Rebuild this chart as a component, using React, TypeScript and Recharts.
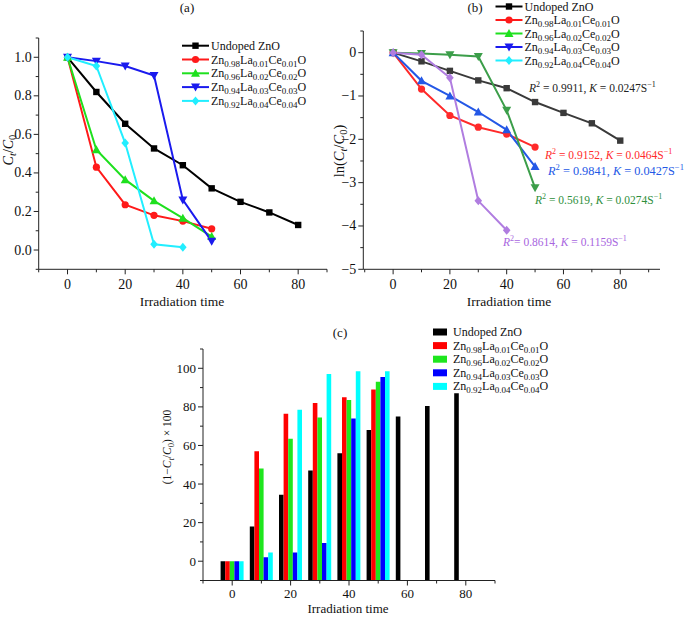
import React from "react";
import { LineChart, Line, BarChart, Bar, XAxis, YAxis } from "recharts";

// 세 패널 (a) Ct/C0, (b) ln(Ct/C0), (c) 분해율 막대 — 한 캔버스 위 절대 좌표로 겹쳐 그림
const W = 685;
const H = 617;
const FONT = "'Liberation Serif', 'Times New Roman', serif";
const AXIS_C = "#222";
const TEXT_C = "#111";

const times = [0, 10, 20, 30, 40, 50, 60, 70, 80];

// (a) Ct/C0
const undopedA = [1.0, 0.82, 0.655, 0.527, 0.44, 0.32, 0.25, 0.195, 0.13];
const la01A = [1.0, 0.43, 0.235, 0.18, 0.15, 0.11];
const la02A = [1.0, 0.52, 0.365, 0.255, 0.165, 0.07];
const la03A = [1.0, 0.98, 0.955, 0.905, 0.26, 0.045];
const la04A = [1.0, 0.955, 0.555, 0.03, 0.015];

// (b) ln(Ct/C0)
const undopedB = [0, -0.2, -0.42, -0.64, -0.82, -1.14, -1.39, -1.63, -2.03];
const la01B = [0, -0.84, -1.45, -1.72, -1.88, -2.18];
const la02B = [0, -0.65, -1.0, -1.37, -1.78, -2.63];
const la03B = [0, -0.02, -0.05, -0.09, -1.33, -3.12];
const la04B = [0, -0.05, -0.58, -3.42, -4.1];

// (c) (1 - Ct/C0) x 100
const undopedC = [0, 18, 34.5, 47, 56, 68, 75, 80.5, 87];
const la01C = [0, 57, 76.5, 82, 85, 89];
const la02C = [0, 48, 63.5, 74.5, 83.5, 93];
const la03C = [0, 2, 4.5, 9.5, 74, 95.5];
const la04C = [0, 4.5, 78.5, 97, 98.5, 98.5];

// ticks
const xMajor = [0, 20, 40, 60, 80];
const xTicks = [-10, 0, 10, 20, 30, 40, 50, 60, 70, 80, 90];
const aYMajor = [0, 0.2, 0.4, 0.6, 0.8, 1.0];
const aYTicks = [-0.1, 0, 0.1, 0.2, 0.3, 0.4, 0.5, 0.6, 0.7, 0.8, 0.9, 1.0, 1.1];
const bYMajor = [0, -1, -2, -3, -4, -5];
const bYTicks = [0.5, 0, -0.5, -1, -1.5, -2, -2.5, -3, -3.5, -4, -4.5, -5];
const cYMajor = [0, 20, 40, 60, 80, 100];
const cYTicks = [-10, 0, 10, 20, 30, 40, 50, 60, 70, 80, 90, 100, 110];

// fits in (b)
const fitR2 = ["0.9911", "0.9152", "0.9841", "0.5619", "0.8614"];
const fitK = ["0.0247", "0.0464", "0.0427", "0.0274", "0.1159"];

const names = [
  ["Undoped ZnO"],
  ["Zn", "0.98", "La", "0.01", "Ce", "0.01", "O"],
  ["Zn", "0.96", "La", "0.02", "Ce", "0.02", "O"],
  ["Zn", "0.94", "La", "0.03", "Ce", "0.03", "O"],
  ["Zn", "0.92", "La", "0.04", "Ce", "0.04", "O"],
];
const keys = ["undoped", "la01", "la02", "la03", "la04"];
const legendColors = ["#000000", "#ff1a1a", "#1ee01e", "#1a1aee", "#22eeff"];
const legendShapes = ["square", "circle", "up", "down", "diamond"];
const barColors = ["#000000", "#ff0000", "#1ee61e", "#0000ff", "#00ffff"];

const rowsA = times.map((t, i) => ({ t, undoped: undopedA[i], la01: la01A[i], la02: la02A[i], la03: la03A[i], la04: la04A[i] }));
const rowsB = times.map((t, i) => ({ t, undoped: undopedB[i], la01: la01B[i], la02: la02B[i], la03: la03B[i], la04: la04B[i] }));
const rowsC = times.map((t, i) => ({ t, undoped: undopedC[i], la01: la01C[i], la02: la02C[i], la03: la03C[i], la04: la04C[i] }));

// 선 스타일 (b 는 원본처럼 색/모양이 범례와 다름)
const seriesA = [
  { key: "undoped", color: "#000000", shape: "square" },
  { key: "la01", color: "#ff1a1a", shape: "circle" },
  { key: "la02", color: "#1ee01e", shape: "up" },
  { key: "la03", color: "#1a1aee", shape: "down" },
  { key: "la04", color: "#22eeff", shape: "diamond" },
];
const seriesB = [
  { key: "undoped", color: "#3a3a3a", shape: "square" },
  { key: "la01", color: "#ff2a2a", shape: "circle" },
  { key: "la02", color: "#2458e6", shape: "up" },
  { key: "la03", color: "#3c9e4a", shape: "down" },
  { key: "la04", color: "#b07de0", shape: "diamond" },
];

function Marker({ cx, cy, shape, color }: { cx?: number; cy?: number; shape: string; color: string }) {
  if (cx == null || cy == null || isNaN(cx) || isNaN(cy)) return <g />;
  if (shape === "square") return <rect x={cx - 3.2} y={cy - 3.2} width={6.4} height={6.4} fill={color} />;
  if (shape === "circle") return <circle cx={cx} cy={cy} r={3.6} fill={color} />;
  if (shape === "up") return <polygon points={`${cx},${cy - 4.5} ${cx + 4.5},${cy + 3.5} ${cx - 4.5},${cy + 3.5}`} fill={color} />;
  if (shape === "down") return <polygon points={`${cx},${cy + 4.5} ${cx + 4.5},${cy - 3.5} ${cx - 4.5},${cy - 3.5}`} fill={color} />;
  return <polygon points={`${cx},${cy - 4.5} ${cx + 3.8},${cy} ${cx},${cy + 4.5} ${cx - 3.8},${cy}`} fill={color} />;
}

const fmtMinus = (v: number) => (v < 0 ? `\u2212${Math.abs(v)}` : `${v}`);

const xTick = (axisY: number, fs: number, dy: number) => (p: any) => {
  const v = p.payload.value;
  const major = xMajor.includes(v);
  return (
    <g>
      <line x1={p.x} x2={p.x} y1={axisY} y2={axisY + (major ? 5 : 3)} stroke={AXIS_C} />
      {major && (
        <text x={p.x} y={axisY + dy} textAnchor="middle" dominantBaseline="central" fontSize={fs} fontFamily={FONT} fill={TEXT_C}>
          {v}
        </text>
      )}
    </g>
  );
};

const yTick = (axisX: number, majors: number[], fmt: (v: number) => string, fs: number) => (p: any) => {
  const v = p.payload.value;
  const major = majors.includes(v);
  return (
    <g>
      <line x1={axisX - (major ? 5 : 3)} x2={axisX} y1={p.y} y2={p.y} stroke={AXIS_C} />
      {major && (
        <text x={axisX - 7} y={p.y} textAnchor="end" dominantBaseline="central" fontSize={fs} fontFamily={FONT} fill={TEXT_C}>
          {fmt(v)}
        </text>
      )}
    </g>
  );
};

function Formula({ x, y, parts, fs = 12, sub = 9, fill = TEXT_C }: { x: number; y: number; parts: string[]; fs?: number; sub?: number; fill?: string }) {
  return (
    <text x={x} y={y} fontSize={fs} fontFamily={FONT} fill={fill}>
      {parts.map((p, i) =>
        i % 2 ? (
          <tspan key={i} dy={3} fontSize={sub}>{p}</tspan>
        ) : (
          <tspan key={i} dy={i === 0 ? 0 : -3}>{p}</tspan>
        )
      )}
    </text>
  );
}

function Fit({ x, y, i, color, fs = 11.5, tight = false }: { x: number; y: number; i: number; color: string; fs?: number; tight?: boolean }) {
  return (
    <text x={x} y={y} fontSize={fs} fontFamily={FONT} fill={color}>
      <tspan fontStyle="italic">R</tspan>
      <tspan dy={-5} fontSize={fs * 0.7}>2</tspan>
      <tspan dy={5}>{tight ? `= ${fitR2[i]}, ` : ` = ${fitR2[i]}, `}</tspan>
      <tspan fontStyle="italic">K</tspan>
      <tspan>{` = ${fitK[i]}S`}</tspan>
      <tspan dy={-5} fontSize={fs * 0.7}>{"\u22121"}</tspan>
    </text>
  );
}

function LineLegend({ x, y0, step, colors }: { x: number; y0: number; step: number; colors: string[] }) {
  return (
    <g>
      {names.map((n, i) => {
        const y = y0 + i * step;
        return (
          <g key={i}>
            <line x1={x} x2={x + 27} y1={y} y2={y} stroke={colors[i]} strokeWidth={2} />
            <Marker cx={x + 13.5} cy={y} shape={legendShapes[i]} color={colors[i]} />
            <Formula x={x + 29} y={y + 4} parts={n} />
          </g>
        );
      })}
    </g>
  );
}

function RotLabel({ x, y, fs, children }: { x: number; y: number; fs: number; children: React.ReactNode }) {
  return (
    <text x={x} y={y} transform={`rotate(-90, ${x}, ${y})`} textAnchor="middle" fontSize={fs} fontFamily={FONT} fill={TEXT_C}>
      {children}
    </text>
  );
}

const abs: React.CSSProperties = { position: "absolute", left: 0, top: 0 };

export default function App() {
  return (
    <div style={{ position: "absolute", left: 0, top: 0, width: W, height: H, background: "#fff", overflow: "hidden" }}>
      {/* (a) */}
      <div style={abs}>
        <LineChart width={W} height={H} data={rowsA} margin={{ top: 38, left: 8.7, right: 358, bottom: 317.7 }}>
          <XAxis dataKey="t" type="number" domain={[-10, 90]} ticks={xTicks} interval={0} allowDataOverflow height={30} stroke={AXIS_C} tickLine={false} tick={xTick(269.3, 14, 15)} />
          <YAxis type="number" domain={[-0.1, 1.1]} ticks={aYTicks} interval={0} allowDataOverflow width={30} stroke={AXIS_C} tickLine={false} tick={yTick(38.7, aYMajor, (v) => v.toFixed(1), 14)} />
          {seriesA.map((s) => (
            <Line
              key={s.key}
              dataKey={s.key}
              stroke={s.color}
              strokeWidth={2}
              isAnimationActive={false}
              dot={(p: any) => <Marker key={`a-${s.key}-${p.index}`} cx={p.cx} cy={p.cy} shape={s.shape} color={s.color} />}
              activeDot={false}
            />
          ))}
        </LineChart>
      </div>

      {/* (b) */}
      <div style={abs}>
        <LineChart width={W} height={H} data={rowsB} margin={{ top: 31, left: 333.3, right: 25, bottom: 317.7 }}>
          <XAxis dataKey="t" type="number" domain={[-10.5, 94]} ticks={xTicks.filter((t) => t > -10.5)} interval={0} allowDataOverflow height={30} stroke={AXIS_C} tickLine={false} tick={xTick(269.3, 14, 15)} />
          <YAxis type="number" domain={[-5, 0.5]} ticks={bYTicks} interval={0} allowDataOverflow width={30} stroke={AXIS_C} tickLine={false} tick={yTick(363.3, bYMajor, fmtMinus, 14)} />
          {seriesB.map((s) => (
            <Line
              key={s.key}
              dataKey={s.key}
              stroke={s.color}
              strokeWidth={2}
              isAnimationActive={false}
              dot={(p: any) => <Marker key={`b-${s.key}-${p.index}`} cx={p.cx} cy={p.cy} shape={s.shape} color={s.color} />}
              activeDot={false}
            />
          ))}
        </LineChart>
      </div>

      {/* (c) */}
      <div style={abs}>
        <BarChart width={W} height={H} data={rowsC} barSize={4.6} barGap={0} margin={{ top: 349, left: 173, right: 190, bottom: 6.5 }}>
          <XAxis dataKey="t" type="number" domain={[-10, 90]} ticks={xTicks} interval={0} allowDataOverflow height={30} stroke={AXIS_C} tickLine={false} tick={xTick(580.5, 13, 13)} />
          <YAxis type="number" domain={[-10, 110]} ticks={cYTicks} interval={0} allowDataOverflow width={30} stroke={AXIS_C} tickLine={false} tick={yTick(203, cYMajor, fmtMinus, 13)} />
          {keys.map((k, i) => (
            <Bar key={k} dataKey={(d: any) => [-10, d[k] ?? -10]} fill={barColors[i]} isAnimationActive={false} />
          ))}
        </BarChart>
      </div>

      {/* 텍스트 레이어 */}
      <svg width={W} height={H} style={{ ...abs, pointerEvents: "none" }}>
        <text x={187} y={12} textAnchor="middle" fontSize={13} fontFamily={FONT} fill={TEXT_C}>(a)</text>
        <text x={475} y={12} textAnchor="middle" fontSize={13} fontFamily={FONT} fill={TEXT_C}>(b)</text>
        <text x={340} y={337} textAnchor="middle" fontSize={13} fontFamily={FONT} fill={TEXT_C}>(c)</text>

        <LineLegend x={182} y0={45.7} step={13.8} colors={legendColors} />
        <LineLegend x={495.5} y0={6.5} step={13.5} colors={legendColors} />
        {names.map((n, i) => {
          const y = 332 + i * 13.6;
          return (
            <g key={i}>
              <rect x={433} y={y - 3.5} width={14} height={7} fill={barColors[i]} />
              <Formula x={453} y={y + 4} parts={n} />
            </g>
          );
        })}

        <Fit x={529} y={92} i={0} color="#222" />
        <Fit x={545} y={159} i={1} color="#ff2a2a" />
        <Fit x={548} y={174.5} i={2} color="#2458e6" fs={12.3} />
        <Fit x={535} y={204} i={3} color="#2f8f3c" />
        <Fit x={503} y={246} i={4} color="#a866e0" tight />

        <text x={182} y={306} textAnchor="middle" fontSize={13.5} fontFamily={FONT} fill={TEXT_C}>Irradiation time</text>
        <text x={509} y={306} textAnchor="middle" fontSize={13.5} fontFamily={FONT} fill={TEXT_C}>Irradiation time</text>
        <text x={348} y={613} textAnchor="middle" fontSize={13} fontFamily={FONT} fill={TEXT_C}>Irradiation time</text>

        <RotLabel x={13} y={150} fs={14}>
          <tspan fontStyle="italic">C</tspan>
          <tspan dy={3} fontSize={10.5} fontStyle="italic">t</tspan>
          <tspan dy={-3}>/</tspan>
          <tspan fontStyle="italic">C</tspan>
          <tspan dy={3} fontSize={10.5}>0</tspan>
        </RotLabel>
        <RotLabel x={344} y={151} fs={14.5}>
          <tspan>ln(</tspan>
          <tspan fontStyle="italic">C</tspan>
          <tspan dy={3} fontSize={10.5} fontStyle="italic">t</tspan>
          <tspan dy={-3}>/</tspan>
          <tspan fontStyle="italic">C</tspan>
          <tspan dy={3} fontSize={10.5}>0</tspan>
          <tspan dy={-3}>)</tspan>
        </RotLabel>
        <RotLabel x={171} y={447} fs={11.5}>
          <tspan>(1{"\u2212"}</tspan>
          <tspan fontStyle="italic">C</tspan>
          <tspan dy={3} fontSize={8.5} fontStyle="italic">t</tspan>
          <tspan dy={-3}>/</tspan>
          <tspan fontStyle="italic">C</tspan>
          <tspan dy={3} fontSize={8.5}>0</tspan>
          <tspan dy={-3}>) × 100</tspan>
        </RotLabel>
      </svg>
    </div>
  );
}
